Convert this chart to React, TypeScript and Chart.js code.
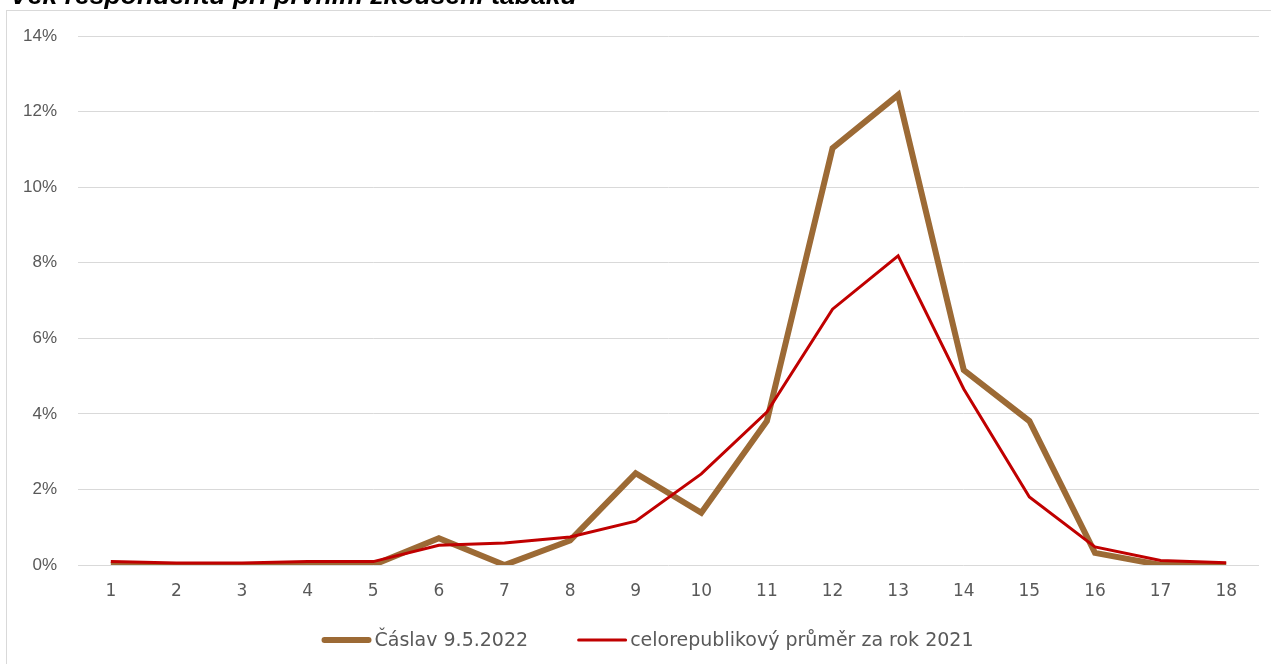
import React, { useEffect, useRef } from "react";
import { Chart, registerables } from "chart.js";

Chart.register(...registerables);

const TITLE = "Věk respondentů při prvním zkoušení tabáku";
const AGES = ["1", "2", "3", "4", "5", "6", "7", "8", "9", "10", "11", "12", "13", "14", "15", "16", "17", "18"];
const CASLAV_LABEL = "Čáslav 9.5.2022";
const CASLAV = [0, 0, 0, 0, 0, 0.71, 0, 0.65, 2.43, 1.38, 3.81, 11.03, 12.44, 5.16, 3.81, 0.32, 0, 0];
const CR_LABEL = "celorepublikový průměr za rok 2021";
const CR = [0.09, 0.05, 0.05, 0.09, 0.09, 0.52, 0.58, 0.74, 1.16, 2.41, 4.05, 6.77, 8.18, 4.66, 1.8, 0.48, 0.12, 0.06];
const Y_MAX = 14;
const Y_STEP = 2;

const FONT = '"DejaVu Sans", sans-serif';
const YFONT = '"Liberation Sans", Arial, sans-serif';
const BROWN = "#9C6A35";
const RED = "#C00000";
const TEXT = "#595959";

const decor = {
  id: "decor",
  afterDraw(chart: any) {
    const ctx = chart.ctx as CanvasRenderingContext2D;
    ctx.save();
    // outer frame
    ctx.strokeStyle = "#d9d9d9";
    ctx.lineWidth = 1;
    ctx.strokeRect(6.5, 10.5, 1400, 800);
    // title (cut at top)
    const base = 24;
    ctx.font = `italic bold ${base}px "Liberation Sans", Arial, sans-serif`;
    const w = ctx.measureText(TITLE).width;
    const size = (base * 567) / w;
    ctx.font = `italic bold ${size}px "Liberation Sans", Arial, sans-serif`;
    ctx.fillStyle = "#000";
    ctx.textBaseline = "alphabetic";
    ctx.textAlign = "left";
    ctx.fillText(TITLE, 10, 4);
    // legend
    ctx.font = `19px ${FONT}`;
    ctx.textBaseline = "middle";
    const items = chart.data.datasets.map((d: any) => ({
      label: d.label,
      color: d.borderColor,
      width: d.borderWidth,
      tw: ctx.measureText(d.label).width,
    }));
    const sample = 50;
    const gapText = 3;
    const gapItems = 49;
    let total = 0;
    items.forEach((it: any, i: number) => {
      total += sample + gapText + it.tw + (i < items.length - 1 ? gapItems : 0);
    });
    let x = 647.5 - total / 2;
    const y = 640;
    items.forEach((it: any) => {
      ctx.strokeStyle = it.color;
      ctx.lineWidth = it.width;
      ctx.lineCap = "round";
      ctx.beginPath();
      ctx.moveTo(x + it.width / 2, y);
      ctx.lineTo(x + sample - it.width / 2, y);
      ctx.stroke();
      ctx.fillStyle = TEXT;
      ctx.fillText(it.label, x + sample + gapText, y + 1);
      x += sample + gapText + it.tw + gapItems;
    });
    ctx.restore();
  },
};

export default function App() {
  const ref = useRef<HTMLCanvasElement>(null);
  useEffect(() => {
    if (!ref.current) return;
    const chart = new Chart(ref.current, {
      type: "line",
      data: {
        labels: AGES,
        datasets: [
          {
            label: CASLAV_LABEL,
            data: CASLAV,
            borderColor: BROWN,
            backgroundColor: BROWN,
            borderWidth: 6,
            pointRadius: 0,
            tension: 0,
            order: 2,
          },
          {
            label: CR_LABEL,
            data: CR,
            borderColor: RED,
            backgroundColor: RED,
            borderWidth: 3,
            pointRadius: 0,
            tension: 0,
            order: 1,
          },
        ],
      },
      options: {
        responsive: false,
        animation: false,
        layout: { padding: { top: 36, right: 12, left: 0, bottom: 0 } },
        plugins: { legend: { display: false }, tooltip: { enabled: false }, title: { display: false } },
        scales: {
          x: {
            offset: true,
            grid: { display: false, drawTicks: false },
            border: { display: false },
            ticks: { color: TEXT, font: { family: FONT, size: 17 }, padding: 16, maxRotation: 0 },
            afterFit: (s: any) => {
              s.height = 99;
            },
          },
          y: {
            min: 0,
            max: Y_MAX,
            grid: { color: "#d9d9d9", lineWidth: 1, drawTicks: false },
            border: { display: false },
            ticks: {
              stepSize: Y_STEP,
              color: TEXT,
              font: { family: YFONT, size: 17 },
              padding: 21,
              callback: (v: any) => `${v}%`,
            },
            afterFit: (s: any) => {
              s.width = 78;
            },
          },
        },
      },
      plugins: [decor],
    });
    return () => chart.destroy();
  }, []);
  return (
    <div style={{ position: "fixed", left: 0, top: 0, width: 1271, height: 664, background: "#fff" }}>
      <canvas ref={ref} width={1271} height={664} style={{ display: "block" }} />
    </div>
  );
}
